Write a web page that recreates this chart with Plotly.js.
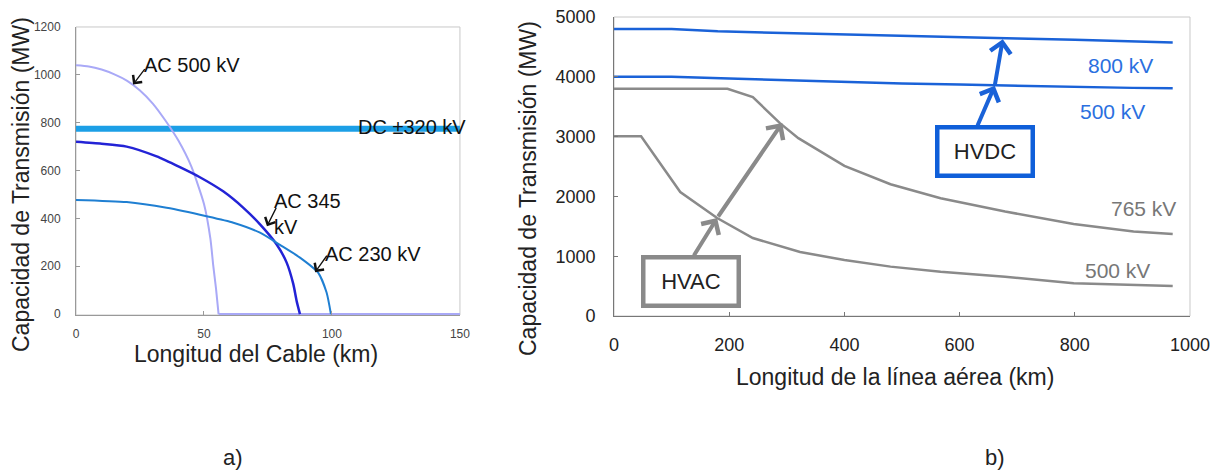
<!DOCTYPE html>
<html>
<head>
<meta charset="utf-8">
<script src="https://cdn.plot.ly/plotly-3.0.1.min.js"></script>
<style>html,body{margin:0;padding:0;background:#fff;}#chart{width:1220px;height:475px;}</style>
</head>
<body>
<div id="chart"></div>
<script>
// ---- Panel a) : cable length vs transmission capacity ----
const cableKmAC500 = [0, 5, 10, 15, 20, 25, 30, 35, 40, 45, 50, 52.5, 53.6, 54.7, 55.7];
const cableMwAC500 = [1040, 1035, 1022, 1002, 975, 935, 880, 808, 725, 618, 460, 315, 205, 106, 0];
const cableKmAC500Zero = [55.7, 150];
const cableMwAC500Zero = [0, 0];
const cableKmAC345 = [0, 10, 19.8, 31.5, 40.6, 48.4, 57.5, 65.4, 71.9, 78.4, 82.3, 84.9, 86.2, 87.5];
const cableMwAC345 = [720, 712, 700, 659, 614, 572, 513, 444, 375, 291, 215, 125, 55, 0];
const cableKmAC230 = [0, 19.8, 35.4, 51, 61.5, 71.9, 79.7, 87.5, 94.6, 97.9, 99.6];
const cableMwAC230 = [477, 468, 444, 409, 382, 340, 289, 236, 173, 90, 0];
const cableKmDC = [0, 150];
const cableMwDC = [775, 775];
const cableXTicks = [0, 50, 100, 150];
const cableYTicks = [0, 200, 400, 600, 800, 1000, 1200];

// ---- Panel b) : overhead line length vs transmission capacity ----
const lineKmDC800 = [0, 100, 180, 300, 400, 500, 600, 700, 800, 900, 940, 970];
const lineMwDC800 = [4800, 4800, 4760, 4730, 4710, 4690, 4660, 4640, 4620, 4600, 4580, 4575];
const lineKmDC500 = [0, 100, 200, 300, 400, 500, 600, 700, 800, 900, 970];
const lineMwDC500 = [4000, 4000, 3970, 3940, 3910, 3890, 3870, 3850, 3830, 3815, 3810];
const lineKmAC765 = [0, 197, 241, 288, 320, 400, 480, 567, 679, 798, 902, 970];
const lineMwAC765 = [3800, 3800, 3661, 3225, 2974, 2511, 2204, 1970, 1747, 1540, 1412, 1373];
const lineKmAC500 = [0, 47, 115, 179, 241, 323, 400, 480, 567, 679, 798, 970];
const lineMwAC500 = [3005, 3005, 2074, 1639, 1304, 1070, 937, 826, 742, 658, 547, 502];
const lineXTicks = [0, 200, 400, 600, 800, 1000];
const lineYTicks = [0, 1000, 2000, 3000, 4000, 5000];

const FONT = 'Liberation Sans, Arial, Helvetica, sans-serif';
const BLUE = '#1a62d8';
const GRAY = '#8a8a8a';
const LAVENDER = '#a9a9f7';

const traces = [
  {x: cableKmDC, y: cableMwDC, xaxis: 'x', yaxis: 'y', mode: 'lines', line: {color: '#1c9fe6', width: 6}},
  {x: cableKmAC500Zero, y: cableMwAC500Zero, xaxis: 'x', yaxis: 'y', mode: 'lines', line: {color: LAVENDER, width: 2}},
  {x: cableKmAC500, y: cableMwAC500, xaxis: 'x', yaxis: 'y', mode: 'lines', line: {color: LAVENDER, width: 2, shape: 'spline', smoothing: 0.6}},
  {x: cableKmAC345, y: cableMwAC345, xaxis: 'x', yaxis: 'y', mode: 'lines', line: {color: '#2323d6', width: 2.5, shape: 'spline', smoothing: 0.6}},
  {x: cableKmAC230, y: cableMwAC230, xaxis: 'x', yaxis: 'y', mode: 'lines', line: {color: '#1f7fd2', width: 2, shape: 'spline', smoothing: 0.6}},
  {x: lineKmDC800, y: lineMwDC800, xaxis: 'x2', yaxis: 'y2', mode: 'lines', line: {color: BLUE, width: 2.5}},
  {x: lineKmDC500, y: lineMwDC500, xaxis: 'x2', yaxis: 'y2', mode: 'lines', line: {color: BLUE, width: 2.5}},
  {x: lineKmAC765, y: lineMwAC765, xaxis: 'x2', yaxis: 'y2', mode: 'lines', line: {color: GRAY, width: 2.5}},
  {x: lineKmAC500, y: lineMwAC500, xaxis: 'x2', yaxis: 'y2', mode: 'lines', line: {color: GRAY, width: 2.5}}
];

function ax(domain, range, ticks, fontSize, standoff, col) {
  return {
    domain: domain, range: range, tickvals: ticks, ticktext: ticks.map(String),
    showgrid: false, zeroline: false, showline: true, linecolor: col, linewidth: 1,
    ticks: 'inside', ticklen: 4, tickcolor: col, fixedrange: true,
    tickfont: {family: FONT, size: fontSize, color: fontSize < 14 ? '#444' : '#222'},
    ticklabelstandoff: standoff
  };
}

const annotations = [];
function txt(x, y, text, xref, yref, opts) {
  annotations.push(Object.assign({x: x, y: y, xref: xref, yref: yref, text: text, showarrow: false,
    xanchor: 'center', yanchor: 'middle',
    font: {family: FONT, size: 20, color: '#111'}}, opts || {}));
}
function arrow(xh, yh, xt, yt, xr, yr, color, width, size) {
  annotations.push({x: xh, y: yh, ax: xt, ay: yt, xref: xr, yref: yr, axref: xr, ayref: yr,
    text: '', showarrow: true, arrowhead: 4, arrowsize: size, arrowwidth: width, arrowcolor: color, standoff: 0});
}

// panel a labels
txt(25.8, 1042, 'AC 500 kV', 'x', 'y', {xanchor: 'left'});
arrow(22.3, 960, 27.3, 1030, 'x', 'y', '#111', 1.3, 1.7);
txt(109.4, 783, 'DC ±320 kV', 'x', 'y', {xanchor: 'left'});
txt(76.6, 419, 'AC 345<br>kV', 'x', 'y', {xanchor: 'left', align: 'left'});
arrow(74.6, 367, 78.5, 450, 'x', 'y', '#111', 1.3, 1.7);
txt(96.5, 250, 'AC 230 kV', 'x', 'y', {xanchor: 'left'});
arrow(93.4, 175, 98.4, 250, 'x', 'y', '#111', 1.3, 1.7);

// panel b labels
txt(939, 4197, '800 kV', 'x2', 'y2', {xanchor: 'right', font: {family: FONT, size: 21, color: '#2a6fe0'}});
txt(925, 3428, '500 kV', 'x2', 'y2', {xanchor: 'right', font: {family: FONT, size: 21, color: '#2a6fe0'}});
txt(980, 1806, '765 kV', 'x2', 'y2', {xanchor: 'right', font: {family: FONT, size: 21, color: '#777'}});
txt(934, 769, '500 kV', 'x2', 'y2', {xanchor: 'right', font: {family: FONT, size: 21, color: '#777'}});

arrow(661, 3850, 630, 3161, 'x2', 'y2', BLUE, 4, 1);
arrow(675, 4630, 661, 3850, 'x2', 'y2', BLUE, 4, 1);
arrow(179, 1639, 137, 987, 'x2', 'y2', GRAY, 4, 1);
arrow(292, 3227, 179, 1639, 'x2', 'y2', GRAY, 4, 1);

txt(644, 2751, 'HVDC', 'x2', 'y2', {font: {family: FONT, size: 22, color: '#222'}, bordercolor: '#0f5fd9',
  borderwidth: 4.5, borderpad: 0, width: 91, height: 44, bgcolor: '#fff'});
txt(133, 585, 'HVAC', 'x2', 'y2', {font: {family: FONT, size: 22, color: '#222'}, bordercolor: GRAY,
  borderwidth: 4.5, borderpad: 0, width: 91, height: 44, bgcolor: '#fff'});

// axis titles & panel captions
txt(0.0172, 0.6126, 'Capacidad de Transmisión (MW)', 'paper', 'paper', {textangle: -90, font: {family: FONT, size: 23, color: '#222'}});
txt(0.2102, 0.2547, 'Longitud del Cable (km)', 'paper', 'paper', {font: {family: FONT, size: 23, color: '#222'}});
txt(0.4328, 0.6021, 'Capacidad de Transmisión (MW)', 'paper', 'paper', {textangle: -90, font: {family: FONT, size: 23, color: '#222'}});
txt(0.7336, 0.2063, 'Longitud de la línea aérea (km)', 'paper', 'paper', {font: {family: FONT, size: 23, color: '#222'}});
txt(0.191, 0.0358, 'a)', 'paper', 'paper', {font: {family: FONT, size: 22, color: '#222'}});
txt(0.8156, 0.0358, 'b)', 'paper', 'paper', {font: {family: FONT, size: 22, color: '#222'}});

const frame = (xr, yr) => ({type: 'rect', xref: xr + ' domain', yref: yr + ' domain', x0: 0, x1: 1, y0: 0, y1: 1,
  line: {color: '#c8c8c8', width: 1}, layer: 'below'});

const layout = {
  width: 1220, height: 475,
  margin: {l: 0, r: 0, t: 0, b: 0},
  paper_bgcolor: '#fff', plot_bgcolor: '#fff',
  showlegend: false,
  xaxis: ax([0.0623, 0.3770], [0, 150], cableXTicks, 12, 8, '#999'),
  yaxis: ax([0.3368, 0.9432], [-4, 1200], cableYTicks, 12, 12, '#999'),
  xaxis2: Object.assign(ax([0.5033, 0.9754], [0, 1000], lineXTicks, 18, 12, '#777'), {anchor: 'y2'}),
  yaxis2: Object.assign(ax([0.3347, 0.9642], [0, 5000], lineYTicks, 18, 14, '#777'), {anchor: 'x2'}),
  shapes: [frame('x', 'y'), frame('x2', 'y2')],
  annotations: annotations
};
layout.xaxis.anchor = 'y';
layout.yaxis.anchor = 'x';

Plotly.newPlot('chart', traces, layout, {displayModeBar: false, staticPlot: true});
</script>
</body>
</html>
